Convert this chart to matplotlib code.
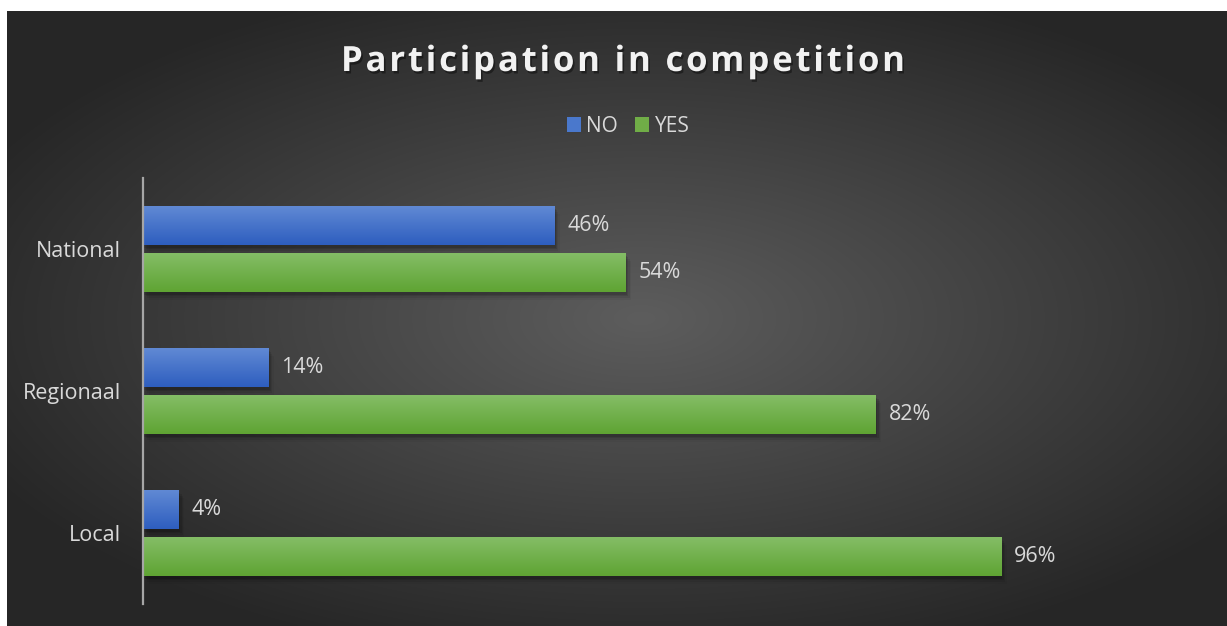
import numpy as np
import matplotlib.pyplot as plt
import matplotlib.patheffects as pe
from matplotlib.patches import Patch
from matplotlib.colors import LinearSegmentedColormap

plt.rcParams['font.family'] = ['Open Sans', 'DejaVu Sans']

categories = ["Local", "Regionaal", "National"]
no_share = [0.04, 0.14, 0.46]
yes_share = [0.96, 0.82, 0.54]
series_names = ["NO", "YES"]

W, H = 1227, 626
TEXT = "#d9d9d9"
blue_top, blue_bottom = "#6089d4", "#2e5ebf"
green_top, green_bottom = "#84bd66", "#5fa433"

fig = plt.figure(figsize=(W / 100, H / 100), dpi=100, facecolor="white")

# dark radial background
bg = fig.add_axes([7 / W, 0, 1 - 7 / W, 1 - 11 / H])
gx, gy = np.meshgrid(np.linspace(-1, 1, 600), np.linspace(-1, 1, 300))
r = np.sqrt(((gx - 0.04) / 1.05) ** 2 + (gy / 1.0) ** 2)
shade = 0.365 - 0.215 * np.clip(r, 0, 1.15) / 1.15
bg.imshow(np.dstack([shade] * 3), extent=(0, 1, 0, 1), aspect="auto", interpolation="bicubic")
bg.set_axis_off()

# main plot area
ax = fig.add_axes([143 / W, 22 / H, (1180 - 143) / W, 426 / H])
ax.patch.set_alpha(0)

bar_h = 0.2746
offset = 0.1655
y = np.arange(len(categories))

shadow = [
    pe.SimplePatchShadow(offset=(1, -2), shadow_rgbFace="black", alpha=0.12),
    pe.SimplePatchShadow(offset=(2, -3), shadow_rgbFace="black", alpha=0.10),
    pe.SimplePatchShadow(offset=(3, -4.5), shadow_rgbFace="black", alpha=0.07),
    pe.SimplePatchShadow(offset=(4, -6), shadow_rgbFace="black", alpha=0.04),
    pe.Normal(),
]

grad = np.linspace(1, 0, 64).reshape(-1, 1)
groups = [
    (no_share, y + offset, blue_top, blue_bottom),
    (yes_share, y - offset, green_top, green_bottom),
]
for vals, ypos, top, bottom in groups:
    cmap = LinearSegmentedColormap.from_list("g", [bottom, top])
    bars = ax.barh(ypos, vals, height=bar_h, color=bottom, path_effects=shadow, zorder=2)
    for b, v, yc in zip(bars, vals, ypos):
        x0, y0 = b.get_x(), b.get_y()
        im = ax.imshow(grad, extent=(x0, x0 + b.get_width(), y0, y0 + b.get_height()),
                       aspect="auto", cmap=cmap, vmin=0, vmax=1, zorder=3)
        im.set_clip_path(b)
        ax.annotate(f"{round(v * 100)}%", (v, yc), xytext=(9.5, 0),
                    textcoords="offset points", va="center", ha="left",
                    color=TEXT, fontsize=15.5)

ax.set_xlim(0, 0.96 * (1180 - 143) / (1001 - 143))
ax.set_ylim(-0.5, len(categories) - 0.5)
ax.set_xticks([])
ax.set_yticks(y, categories)
ax.tick_params(axis="y", length=0, pad=16, labelsize=15.5, labelcolor=TEXT)
for s in ["top", "right", "bottom"]:
    ax.spines[s].set_visible(False)
ax.spines["left"].set_color("#a6a6a6")
ax.spines["left"].set_linewidth(1.6)
ax.spines["left"].set_zorder(4)

# legend
handles = [Patch(facecolor="#4a78cc", label=series_names[0]),
           Patch(facecolor="#70ad47", label=series_names[1])]
fig.legend(handles=handles, loc="center", bbox_to_anchor=(628 / W, 1 - 126 / H),
           ncol=2, frameon=False, fontsize=15, labelcolor=TEXT,
           handlelength=0.7, handleheight=0.7, handletextpad=0.25,
           columnspacing=0.8)

# letter-spaced title
title = "Participation in competition"
title_kw = dict(fontsize=25, fontweight="bold", color="#f2f2f2")
fig.canvas.draw()
renderer = fig.canvas.get_renderer()
probe = fig.text(0, 0, title, **title_kw)
plain_w = probe.get_window_extent(renderer).width
probe.remove()
target_w = 905 - 341
spacing = (target_w - plain_w) / (len(title) - 1)
left = 623 - target_w / 2
title_fx = [pe.SimplePatchShadow(offset=(1.2, -1.8), shadow_rgbFace="black", alpha=0.4), pe.Normal()]
for i, ch in enumerate(title):
    if ch == " ":
        continue
    if i:
        pref = fig.text(0, 0, title[:i] + "|", **title_kw)
        bar_only = fig.text(0, 0, "|", **title_kw)
        pre_w = pref.get_window_extent(renderer).width - bar_only.get_window_extent(renderer).width
        pref.remove()
        bar_only.remove()
    else:
        pre_w = 0
    fig.text((left + pre_w + i * spacing) / W, 1 - 71 / H, ch, ha="left", va="baseline",
             path_effects=title_fx, **title_kw)

fig.savefig("out.png", dpi=100, facecolor=fig.get_facecolor())
